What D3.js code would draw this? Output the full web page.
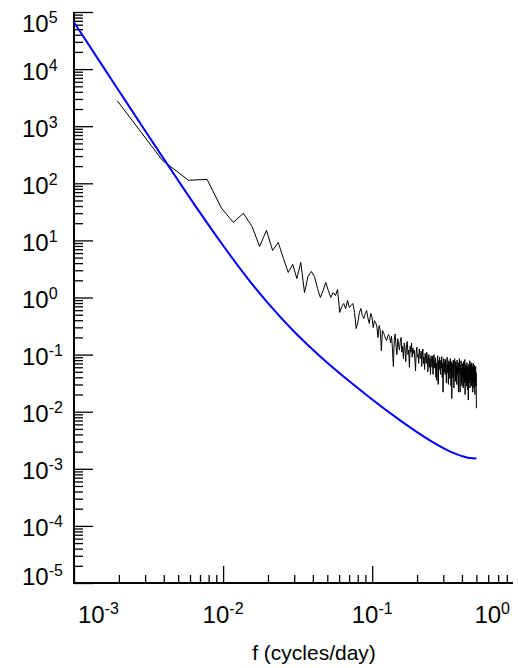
<!DOCTYPE html>
<html>
<head>
<meta charset="utf-8">
<script src="https://cdn.jsdelivr.net/npm/d3@7"></script>
<style>
  body { margin: 0; background: white; }
  svg { display: block; font-family: Arial, "Liberation Sans", sans-serif; }
</style>
</head>
<body>
<div id="chart"></div>
<script>
// periodogram of the record (black), one value per Fourier frequency k/512, k = 1..256
var df = 1 / 512;
var specVals = [
  2780, 254, 113, 117, 36.4, 20.7, 29.8, 17.6, 7.85, 15.0,
  6.68, 9.22, 4.83, 2.75, 3.79, 2.15, 4.11, 1.22, 2.33, 2.86,
  2.33, 1.44, 1.0, 1.33, 1.83, 1.33, 1.0, 1.22, 1.08, 1.38,
  0.546, 0.695, 0.785, 0.641, 0.886, 0.668, 0.724, 0.785, 0.546, 0.286,
  0.364, 0.546, 0.641, 0.483, 0.428, 0.524, 0.591, 0.428, 0.350, 0.524,
  0.464, 0.298, 0.394, 0.364, 0.310, 0.199, 0.323, 0.264, 0.117, 0.264,
  0.243, 0.216, 0.191, 0.176, 0.207, 0.224, 0.199,
  0.16, 0.21, 0.13, 0.062, 0.18, 0.23, 0.14, 0.10, 0.19, 0.15,
  0.12, 0.17, 0.20, 0.11, 0.14, 0.085, 0.16, 0.13, 0.075, 0.15,
  0.17, 0.10, 0.12, 0.06, 0.14, 0.11, 0.16, 0.09, 0.13, 0.105,
  0.12, 0.08, 0.052, 0.11, 0.135, 0.09, 0.10, 0.07, 0.125, 0.095,
  0.085, 0.115, 0.062, 0.095, 0.125, 0.07, 0.09, 0.055, 0.105, 0.082,
  0.07, 0.11, 0.088, 0.05, 0.08, 0.1, 0.06, 0.085, 0.045, 0.095,
  0.085, 0.06, 0.095, 0.045, 0.07, 0.1, 0.058, 0.075, 0.088, 0.04,
  0.07, 0.035, 0.085, 0.095, 0.03, 0.078, 0.055, 0.09, 0.062, 0.045,
  0.08, 0.058, 0.092, 0.04, 0.07, 0.022, 0.065, 0.085, 0.05, 0.075,
  0.045, 0.082, 0.055, 0.032, 0.07, 0.09, 0.048, 0.065, 0.03, 0.078,
  0.05, 0.072, 0.038, 0.085, 0.058, 0.028, 0.075, 0.017, 0.055, 0.07,
  0.04, 0.08, 0.05, 0.026, 0.068, 0.085, 0.045, 0.034, 0.075, 0.05,
  0.062, 0.03, 0.08, 0.045, 0.07, 0.038, 0.022, 0.072, 0.05, 0.085,
  0.036, 0.022, 0.065, 0.045, 0.078, 0.032, 0.058, 0.028, 0.07, 0.042,
  0.06, 0.026, 0.075, 0.038, 0.055, 0.032, 0.082, 0.02, 0.048, 0.066,
  0.036, 0.06, 0.028, 0.072, 0.045, 0.024, 0.062, 0.04, 0.016, 0.055,
  0.068, 0.032, 0.05, 0.078, 0.026, 0.06, 0.036, 0.07, 0.044, 0.028,
  0.072, 0.045, 0.03, 0.062, 0.022, 0.052, 0.07, 0.034, 0.058, 0.026,
  0.065, 0.04, 0.02, 0.055, 0.032, 0.062, 0.028, 0.048, 0.0115
];

// model spectrum (blue)
var modelFreq = [0.001, 0.0015, 0.002, 0.003, 0.004, 0.005, 0.007, 0.01, 0.015, 0.02,
  0.03, 0.04, 0.05, 0.07, 0.1, 0.15, 0.2, 0.25, 0.3, 0.35, 0.4, 0.45, 0.5];
var modelVals = [66200, 13100, 4170, 833, 268, 112, 30.6, 8.13, 1.98, 0.795,
  0.251, 0.122, 0.072, 0.0344, 0.0164, 0.00743, 0.0044, 0.00303, 0.00231, 0.0019, 0.00167, 0.00154, 0.00151];

var xMajor = [1e-3, 1e-2, 1e-1, 1];
var yMajor = [1e-5, 1e-4, 1e-3, 1e-2, 1e-1, 1, 1e1, 1e2, 1e3, 1e4, 1e5];

var width = 518, height = 668;
var svg = d3.select("#chart")
  .append("svg")
    .attr("width", width)
    .attr("height", height)
    .style("background", "white");

var x = d3.scaleLog().domain([1e-3, 0.88]).range([74, 513]);
var y = d3.scaleLog().domain([1e-5, 1e5]).range([583, 12]);

// minor ticks 2..9 of every decade, kept inside the domain
function minors(scale) {
  var dom = scale.domain(), out = [];
  for (var e = -6; e <= 6; e++) {
    for (var m = 2; m <= 9; m++) {
      var v = m * Math.pow(10, e);
      if (v >= dom[0] && v <= dom[1]) out.push(v);
    }
  }
  return out;
}

// y axis, ticks pointing inward
var gy = svg.append("g").attr("transform", "translate(74,0)");
gy.call(d3.axisRight(y).tickValues(minors(y)).tickSize(9).tickFormat("").tickSizeOuter(0));
gy.select(".domain").remove();
var gy2 = svg.append("g").attr("transform", "translate(74,0)");
gy2.call(d3.axisRight(y).tickValues(yMajor).tickSize(19).tickFormat("").tickSizeOuter(0));
gy2.select(".domain").remove();

// x axis, ticks pointing up
var gx = svg.append("g").attr("transform", "translate(0,583)");
gx.call(d3.axisTop(x).tickValues(minors(x)).tickSize(8).tickFormat("").tickSizeOuter(0));
gx.select(".domain").remove();
var gx2 = svg.append("g").attr("transform", "translate(0,583)");
gx2.call(d3.axisTop(x).tickValues(xMajor.filter(v => v <= x.domain()[1])).tickSize(17).tickFormat("").tickSizeOuter(0));
gx2.select(".domain").remove();

svg.selectAll(".tick line").attr("stroke", "black").attr("stroke-width", 1.3);

// axis lines
svg.append("line").attr("x1", 74).attr("x2", 74).attr("y1", y.range()[1]).attr("y2", y.range()[0] + 1)
  .attr("stroke", "black").attr("stroke-width", 2);
svg.append("line").attr("x1", 73).attr("x2", x.range()[1]).attr("y1", 583).attr("y2", 583)
  .attr("stroke", "black").attr("stroke-width", 2);

// curves
var line = d3.line()
  .x(d => x(d.f))
  .y(d => y(d.v));

var spec = specVals.map((v, i) => ({ f: (i + 1) * df, v: v }));
var model = modelFreq.map((f, i) => ({ f: f, v: modelVals[i] }));

svg.append("path")
  .datum(spec)
  .attr("d", line)
  .attr("fill", "none")
  .attr("stroke", "black")
  .attr("stroke-width", 1);

svg.append("path")
  .datum(model)
  .attr("d", line.curve(d3.curveMonotoneX))
  .attr("fill", "none")
  .attr("stroke", "#0000ff")
  .attr("stroke-width", 2);

// power-of-ten labels
function powLabel(g, v) {
  var e = Math.round(Math.log10(v));
  g.append("tspan").text("10");
  g.append("tspan").attr("dy", -9).style("font-size", "16px").text(e);
}

yMajor.forEach(function(v) {
  var yy = Math.max(32, Math.min(585, y(v) + 10.5));
  var t = svg.append("text")
    .attr("x", 22)
    .attr("y", yy)
    .style("font-size", "24px")
    .attr("fill", "black");
  powLabel(t, v);
});

var xr = x.range();
xMajor.forEach(function(v) {
  var xx = x(v), anchor = "middle";
  if (xx - 24 < xr[0]) { xx = xr[0] + 4; anchor = "start"; }
  if (xx + 22 > xr[1]) { xx = xr[1] - 3; anchor = "end"; }
  var t = svg.append("text")
    .attr("x", xx)
    .attr("y", 623)
    .attr("text-anchor", anchor)
    .style("font-size", "24px")
    .attr("fill", "black");
  powLabel(t, v);
});

svg.append("text")
  .attr("x", 314)
  .attr("y", 660)
  .attr("text-anchor", "middle")
  .style("font-size", "21px")
  .text("f (cycles/day)");
</script>
</body>
</html>
